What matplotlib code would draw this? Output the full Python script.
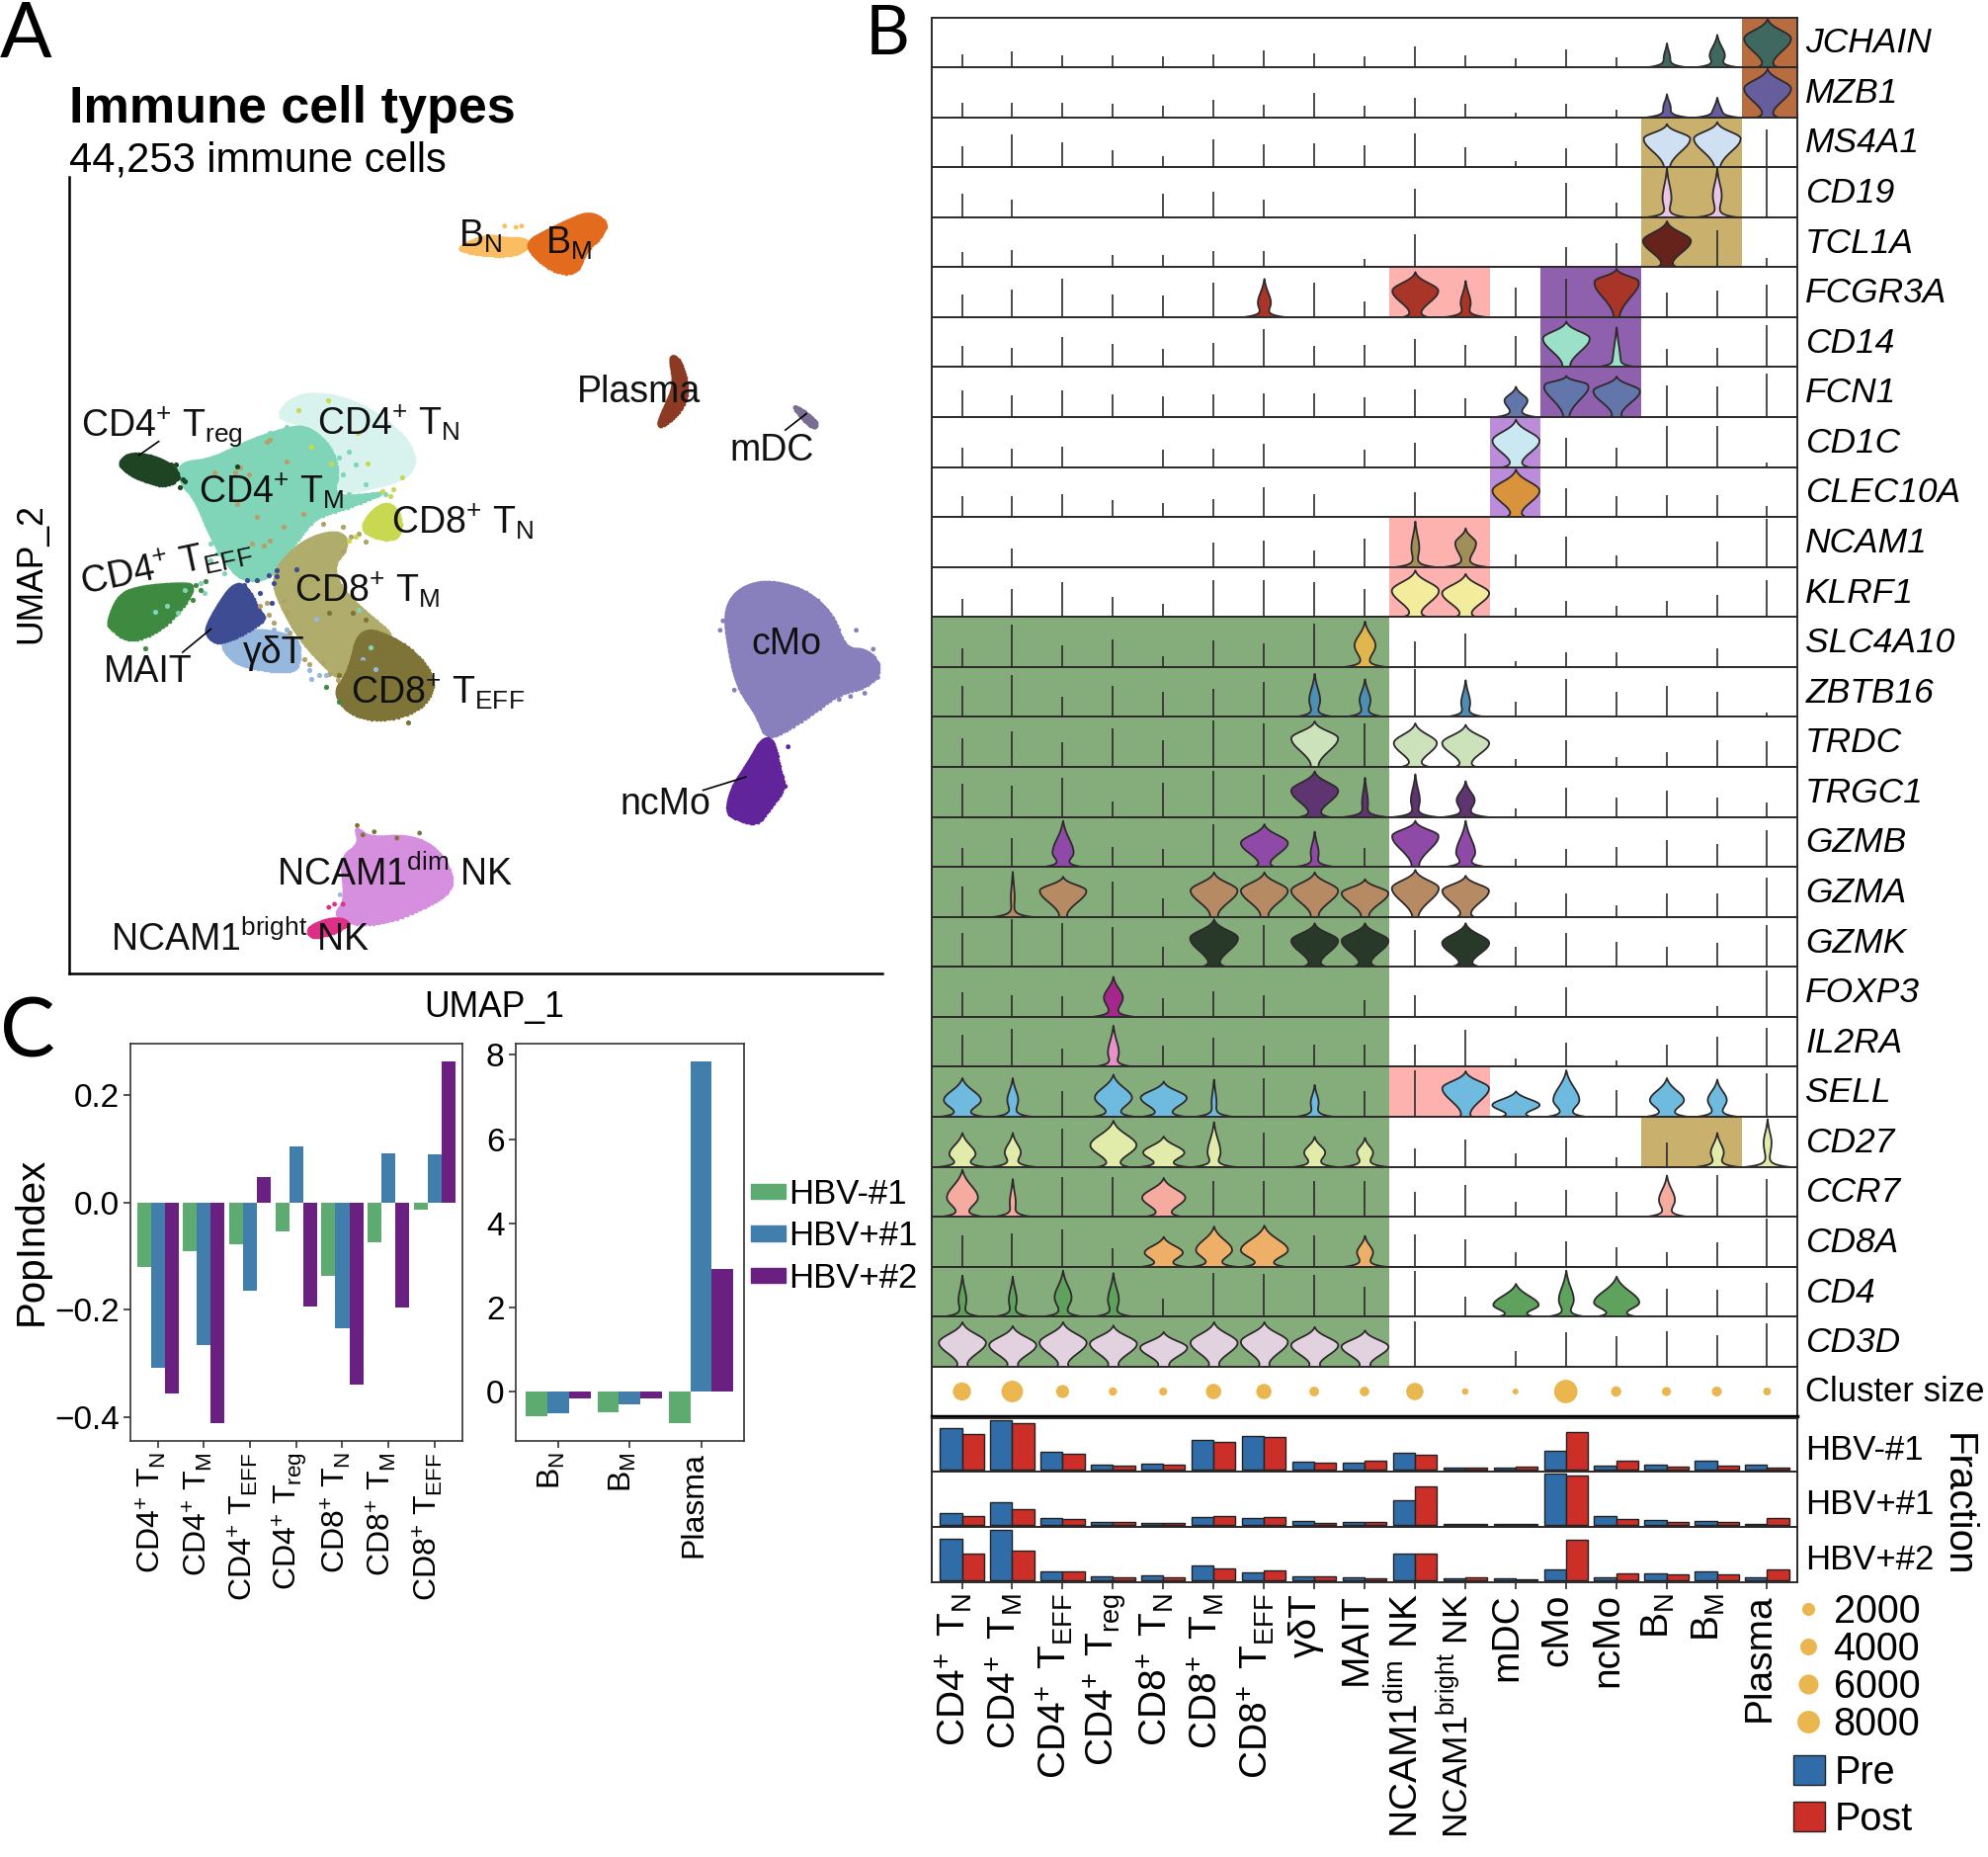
import numpy as np
import matplotlib
matplotlib.use("Agg")
from matplotlib import pyplot as plt
from matplotlib.lines import Line2D
from matplotlib.patches import Patch
from matplotlib.transforms import ScaledTranslation

plt.rcParams['font.family'] = ['Liberation Sans', 'DejaVu Sans']
plt.rcParams['mathtext.fontset'] = 'custom'
plt.rcParams['mathtext.rm'] = 'Liberation Sans'
plt.rcParams['mathtext.it'] = 'Liberation Sans:italic'
plt.rcParams['mathtext.bf'] = 'Liberation Sans:bold'
plt.rcParams['mathtext.default'] = 'rm'

W, H = 2012, 1879

# ---- cell type names
CD4N = r'CD4$^{+}$ T$_{N}$'
CD4M = r'CD4$^{+}$ T$_{M}$'
CD4E = r'CD4$^{+}$ T$_{EFF}$'
CD4R = r'CD4$^{+}$ T$_{reg}$'
CD8N = r'CD8$^{+}$ T$_{N}$'
CD8M = r'CD8$^{+}$ T$_{M}$'
CD8E = r'CD8$^{+}$ T$_{EFF}$'
BN = r'B$_{N}$'
BM = r'B$_{M}$'
NKD = r'NCAM1$^{dim}$ NK'
NKB = r'NCAM1$^{bright}$ NK'

clusters = [CD4N, CD4M, CD4E, CD4R, CD8N, CD8M, CD8E, 'γδT', 'MAIT', NKD, NKB,
            'mDC', 'cMo', 'ncMo', BN, BM, 'Plasma']

# ---- panel B, violin heights per gene (row = 1), one per cluster, 0 = nothing
genes = ['JCHAIN', 'MZB1', 'MS4A1', 'CD19', 'TCL1A', 'FCGR3A', 'CD14', 'FCN1', 'CD1C',
         'CLEC10A', 'NCAM1', 'KLRF1', 'SLC4A10', 'ZBTB16', 'TRDC', 'TRGC1', 'GZMB',
         'GZMA', 'GZMK', 'FOXP3', 'IL2RA', 'SELL', 'CD27', 'CCR7', 'CD8A', 'CD4', 'CD3D']

tops_jchain = [.26, .33, .24, .24, .23, .26, .34, .29, .23, .42, .24, .18, .37, .20, .50, .67, 1.0]
tops_mzb1 = [.30, .30, .30, .27, .24, .36, .25, .49, .24, .39, .27, .09, .27, .15, .48, .41, 1.0]
tops_ms4a1 = [.43, .67, .51, .35, .22, .56, .46, .49, .45, .69, .41, .12, .38, .48, .89, .93, .77]
tops_cd19 = [.48, .35, 0, 0, .48, .51, .36, 0, 0, .58, 0, 0, .71, .29, 1.0, 1.0, 1.0]
tops_tcl1a = [.30, .34, 0, .24, .24, .33, .33, 0, .16, .67, 0, 0, .41, .49, .95, .76, .19]
tops_fcgr3a = [.46, .56, .79, .46, .44, .71, .79, .71, .32, .93, .75, .60, .79, 1.0, .50, .54, .67]
tops_cd14 = [.44, .40, .62, .48, .37, .50, .77, .43, .45, .58, .45, .64, .94, .82, .37, .40, .86]
tops_fcn1 = [.54, .45, .54, .46, .43, .46, .49, .49, .41, .57, .39, .63, .85, .84, .65, .63, .88]
tops_cd1c = [.40, .38, .42, 0, .35, .38, .48, 0, .35, .50, 0, .98, .60, .40, .83, .83, .09]
tops_clec10a = [.43, .43, .46, .35, .28, .37, .61, .46, 0, .50, 0, .98, .59, .43, .45, .45, .23]
tops_ncam1 = [0, .37, 0, 0, 0, .50, .55, .33, .59, .94, .80, .25, .62, .23, 0, .51, .98]
tops_klrf1 = [.37, .57, .72, .41, .27, .76, .76, .72, .57, .96, .89, .18, .33, .22, .33, .45, .75]
tops_slc4a10 = [.39, .87, .44, .57, .23, .54, .49, .89, .94, .52, .69, .12, .31, .30, 0, .39, 0]
tops_zbtb16 = [.63, .86, .41, .63, .51, .58, .71, .89, .78, .98, .76, .31, .78, .51, .64, .51, .10]
tops_trdc = [.58, .73, .51, .78, .55, .94, .88, .94, .88, .90, .87, .17, .55, .21, .31, .55, .53]
tops_trgc1 = [.67, .64, .79, .31, .69, .95, .86, .94, .81, .88, .74, .18, .59, .39, .54, .39, .30]
tops_gzmb = [.38, .58, .95, .41, .36, .88, .88, .73, .38, .95, .95, .17, .36, .41, .54, .46, .76]
tops_gzma = [.63, .93, .83, .73, .38, .92, .92, .92, .78, .97, .85, .29, .48, .24, .48, .48, .80]
tops_gzmk = [.70, .97, .90, .82, .40, .98, .85, .90, .90, .75, .90, .40, .70, .52, .40, .50, .85]
tops_foxp3 = [.51, .44, .43, .83, .39, .53, .44, 0, .34, .44, 0, .22, .60, 0, 0, .22, .95]
tops_il2ra = [.65, .78, .38, .85, .43, .60, .43, .45, .45, .46, .76, .18, .50, .13, .46, .62, .80]
tops_sell = [.80, .80, .52, .87, .73, .77, .78, .66, .52, .95, .94, .53, .96, .55, .80, .77, .88]
tops_cd27 = [.70, .70, .78, .95, .63, .92, .70, .62, .60, .38, .55, .28, .60, .20, .50, .70, .98]
tops_ccr7 = [.97, .78, .82, .82, .80, .72, .72, .72, .72, .50, .65, .30, .55, .50, .85, .85, .77]
tops_cd8a = [.65, .68, .76, .37, .62, .83, .85, .65, .64, .67, .55, .30, .52, .40, .30, .50, .98]
tops_cd4 = [.85, .83, .95, .90, .37, .90, .88, .85, .62, .93, .40, .68, .95, .83, .57, .55, .70]
tops_cd3d = [.92, .84, .92, .85, .72, .92, .92, .82, .75, .92, 0, .33, .70, .62, .72, .65, .88]

gene_tops = [tops_jchain, tops_mzb1, tops_ms4a1, tops_cd19, tops_tcl1a, tops_fcgr3a, tops_cd14,
             tops_fcn1, tops_cd1c, tops_clec10a, tops_ncam1, tops_klrf1, tops_slc4a10, tops_zbtb16,
             tops_trdc, tops_trgc1, tops_gzmb, tops_gzma, tops_gzmk, tops_foxp3, tops_il2ra,
             tops_sell, tops_cd27, tops_ccr7, tops_cd8a, tops_cd4, tops_cd3d]

# cluster number -> (where the belly sits, belly half width, half width at the foot)
bellies = {
    'JCHAIN': {15: (.22, .05, .45), 16: (.25, .14, .48), 17: (.60, .46, .20)},
    'MZB1': {15: (.22, .06, .45), 16: (.15, .06, .45), 17: (.60, .46, .20)},
    'MS4A1': {15: (.60, .46, .02), 16: (.60, .46, .02)},
    'CD19': {15: (.40, .08, .45), 16: (.45, .08, .45)},
    'TCL1A': {15: (.55, .47, .20)},
    'FCGR3A': {7: (.30, .12, .48), 10: (.55, .45, .25), 11: (.30, .09, .48), 14: (.75, .45, .02)},
    'CD14': {13: (.60, .46, .05), 14: (.20, .06, .48)},
    'FCN1': {12: (.35, .22, .48), 13: (.68, .46, .02), 14: (.55, .46, .10)},
    'CD1C': {12: (.55, .46, .25)},
    'CLEC10A': {12: (.55, .46, .20)},
    'NCAM1': {10: (.40, .07, .45), 11: (.50, .20, .48)},
    'KLRF1': {10: (.55, .46, .25), 11: (.50, .46, .20)},
    'SLC4A10': {9: (.45, .20, .48)},
    'ZBTB16': {8: (.35, .10, .48), 9: (.35, .10, .48), 11: (.30, .08, .48)},
    'TRDC': {8: (.60, .46, .05), 10: (.50, .42, .30), 11: (.50, .46, .20)},
    'TRGC1': {8: (.55, .46, .30), 9: (.30, .05, .48), 10: (.35, .08, .48), 11: (.35, .17, .48)},
    'GZMB': {3: (.30, .20, .45), 7: (.50, .46, .20), 8: (.30, .07, .48), 10: (.65, .46, .05),
             11: (.30, .18, .48)},
    'GZMA': {2: (.40, .03, .45), 3: (.55, .46, .05), 6: (.55, .46, .05), 7: (.55, .46, .05),
             8: (.55, .46, .05), 9: (.50, .46, .05), 10: (.60, .46, .02), 11: (.55, .46, .15)},
    'GZMK': {6: (.60, .47, .25), 8: (.55, .46, .25), 9: (.55, .46, .25), 11: (.50, .46, .30)},
    'FOXP3': {4: (.40, .18, .48)},
    'IL2RA': {4: (.30, .10, .48)},
    'SELL': {1: (.35, .36, .50), 2: (.35, .10, .45), 4: (.40, .36, .48), 5: (.40, .45, .48),
             6: (.30, .04, .45), 8: (.30, .07, .45), 11: (.60, .46, .10), 12: (.25, .46, .30),
             13: (.35, .25, .45), 15: (.35, .33, .48), 16: (.35, .18, .48)},
    'CD27': {1: (.27, .25, .50), 2: (.30, .15, .48), 4: (.45, .45, .30), 5: (.30, .40, .48),
             6: (.30, .12, .45), 8: (.30, .20, .45), 9: (.30, .15, .48), 16: (.30, .12, .45),
             17: (.50, .07, .48)},
    'CCR7': {1: (.40, .30, .48), 2: (.30, .05, .45), 5: (.40, .42, .40), 15: (.35, .15, .48)},
    'CD8A': {5: (.30, .37, .48), 6: (.35, .35, .48), 7: (.35, .46, .45), 9: (.30, .15, .48)},
    'CD4': {1: (.35, .07, .45), 2: (.35, .07, .45), 3: (.40, .16, .48), 4: (.35, .10, .48),
            12: (.25, .44, .40), 13: (.35, .14, .45), 14: (.30, .44, .45)},
    'CD3D': {1: (.50, .46, .10), 2: (.45, .46, .10), 3: (.50, .46, .10), 4: (.48, .46, .10),
             5: (.40, .46, .10), 6: (.50, .46, .10), 7: (.52, .46, .10), 8: (.45, .46, .10),
             9: (.42, .46, .10)},
}

gene_colors = ['#3e6860', '#665d9d', '#cfe0f2', '#e9c6e6', '#66231c', '#a83527', '#9be0c9',
               '#6276ab', '#c9e8f2', '#d9933d', '#a08f58', '#f4ec9d', '#e0b64e', '#4d8eb3',
               '#cbe2bb', '#5e3570', '#8e4aa6', '#b68b64', '#28392a', '#a6278c', '#e891c8',
               '#6fbbe0', '#e2ecaa', '#f6aba0', '#eeb068', '#5ea25e', '#e2d2e0']

# coloured blocks behind the violins: colour, genes, first and last cluster
blocks = [
    ('#85ad7c', genes[12:], 1, 9),
    ('#fdb2b0', ['FCGR3A', 'NCAM1', 'KLRF1', 'SELL'], 10, 11),
    ('#c9b06c', ['MS4A1', 'CD19', 'TCL1A', 'CD27'], 15, 16),
    ('#b76d3f', ['JCHAIN', 'MZB1'], 17, 17),
    ('#8e60ad', ['FCGR3A', 'CD14', 'FCN1'], 13, 14),
    ('#bb8cd9', ['CD1C', 'CLEC10A'], 12, 12),
]

# ---- cluster size and pre / post fractions (in 0.1 %)
cluster_size = [4700, 6800, 2200, 600, 550, 3200, 3200, 1000, 950, 4200, 200, 80, 8100, 1200, 800, 1100, 500]
legend_sizes = [2000, 4000, 6000, 8000]

pre_hbvneg1 = [127, 153, 55, 15, 19, 93, 103, 25, 22, 52, 6, 6, 60, 14, 17, 27, 16]
post_hbvneg1 = [110, 142, 50, 13, 15, 86, 100, 23, 27, 47, 8, 10, 116, 29, 9, 14, 6]
pre_hbvpos1 = [37, 69, 22, 9, 6, 25, 21, 14, 9, 76, 4, 5, 154, 26, 15, 12, 4]
post_hbvpos1 = [26, 49, 19, 9, 6, 28, 24, 8, 9, 116, 5, 4, 147, 19, 9, 9, 22]
pre_hbvpos2 = [124, 152, 27, 14, 16, 45, 24, 13, 10, 80, 7, 6, 34, 11, 22, 26, 10]
post_hbvpos2 = [80, 90, 28, 11, 10, 36, 30, 14, 7, 80, 9, 4, 122, 21, 18, 20, 34]

# ---- panel C
donors = ['HBV-#1', 'HBV+#1', 'HBV+#2']
donor_colors = ['#5dab70', '#427eab', '#692080']
tcell_names = [CD4N, CD4M, CD4E, CD4R, CD8N, CD8M, CD8E]
popindex_t_hbvneg1 = [-.120, -.0915, -.0773, -.0548, -.137, -.075, -.0143]
popindex_t_hbvpos1 = [-.3076, -.266, -.164, .105, -.234, .091, .089]
popindex_t_hbvpos2 = [-.355, -.411, .047, -.194, -.34, -.196, .2626]
bcell_names = [BN, BM, 'Plasma']
popindex_b_hbvneg1 = [-.594, -.49, -.757]
popindex_b_hbvpos1 = [-.517, -.30, 7.84]
popindex_b_hbvpos2 = [-.172, -.16, 2.90]

# ---- panel A, cluster outlines
out_cd4n = [(488, 664), (505, 637), (546, 622), (616, 632), (679, 664), (726, 705), (732, 742), (703, 763),
            (645, 776), (598, 784), (581, 726), (540, 674)]
out_cd4m = [(314, 734), (372, 729), (436, 700), (494, 682), (540, 674), (581, 705), (598, 747), (586, 789),
            (656, 784), (679, 781), (616, 805), (557, 820), (528, 852), (494, 894), (470, 920), (424, 920),
            (395, 888), (372, 852), (343, 789), (319, 768)]
out_treg = [(209, 734), (229, 718), (273, 724), (302, 737), (319, 758), (290, 773), (244, 760), (221, 747)]
out_cd8n = [(639, 831), (662, 805), (688, 797), (708, 820), (705, 852), (679, 857), (645, 847)]
out_cd8m = [(488, 899), (528, 862), (575, 844), (610, 847), (610, 873), (587, 896), (598, 930), (645, 972),
            (703, 1014), (645, 1045), (604, 1077), (581, 1066), (528, 1014), (499, 967), (482, 930)]
out_cd8e = [(633, 993), (703, 1014), (755, 1056), (767, 1093), (738, 1129), (674, 1145), (616, 1134),
            (587, 1098), (616, 1066)]
out_cd4e = [(189, 988), (209, 943), (250, 930), (325, 925), (343, 930), (325, 962), (279, 1004), (226, 1019),
            (197, 998)]
out_mait = [(363, 996), (383, 962), (412, 925), (436, 930), (456, 967), (470, 983), (424, 1009), (383, 1022),
            (366, 1009)]
out_gdt = [(389, 1019), (447, 998), (494, 1004), (528, 1014), (528, 1056), (511, 1066), (470, 1064),
           (424, 1056), (401, 1040)]
out_bn = [(810, 390), (860, 372), (890, 378), (930, 378), (930, 395), (900, 405), (860, 405), (815, 398)]
out_bm = [(925, 385), (965, 365), (1000, 350), (1040, 335), (1072, 352), (1060, 375), (1030, 400), (1020, 430),
          (990, 435), (950, 415)]
out_plasma = [(1180, 565), (1195, 565), (1212, 600), (1210, 640), (1180, 670), (1158, 678), (1170, 650), (1190, 610)]
out_mdc = [(1397, 642), (1415, 650), (1442, 670), (1436, 680), (1415, 665)]
out_cmo = [(1277, 970), (1300, 935), (1350, 920), (1420, 935), (1470, 975), (1490, 1030), (1530, 1030),
           (1556, 1060), (1530, 1090), (1480, 1100), (1430, 1135), (1375, 1165), (1350, 1170), (1335, 1135),
           (1300, 1090), (1285, 1030)]
out_ncmo = [(1345, 1170), (1365, 1175), (1375, 1220), (1385, 1250), (1360, 1280), (1335, 1310), (1300, 1300),
            (1280, 1290), (1290, 1250), (1320, 1210)]
out_nkd = [(625, 1310), (650, 1330), (720, 1325), (770, 1345), (800, 1390), (790, 1420), (740, 1445), (670, 1468),
           (610, 1465), (590, 1450), (610, 1430), (600, 1360), (635, 1340)]
out_nkb = [(540, 1472), (590, 1455), (620, 1465), (590, 1480), (550, 1490)]

umap_outlines = [out_cd4n, out_cd4m, out_treg, out_cd8n, out_cd8m, out_cd8e, out_cd4e, out_gdt, out_mait,
                 out_bn, out_bm, out_plasma, out_mdc, out_cmo, out_ncmo, out_nkd, out_nkb]
umap_colors = ['#d8f3ee', '#80d5b8', '#1f4424', '#c9d851', '#b0ad6c', '#7f7438', '#3f8a41', '#96b8de', '#3e4c94',
               '#fbbd62', '#e36b1e', '#8d3a24', '#7a6c92', '#8880bd', '#62249b', '#d68fdf', '#de2f86']

# loose cells around the T cell clusters, read in a crop of that area
tm_x = [540, 575, 610, 660, 820, 850, 870, 830, 900, 870, 960, 480, 430, 450, 430, 470, 400, 410, 350, 330, 850, 900, 920]
tm_y = [215, 190, 175, 155, 250, 230, 270, 300, 375, 385, 360, 230, 510, 540, 560, 600, 630, 660, 650, 720, 360, 330, 360]
tan_x = [440, 520, 505, 545, 570, 650, 610, 555, 590, 710, 510, 600, 610, 660, 770, 830, 900, 855, 880, 830, 600, 580,
         650, 660, 605, 620, 670, 715, 770, 790, 815, 730]
tan_y = [295, 280, 295, 300, 430, 460, 500, 510, 515, 420, 390, 200, 195, 260, 450, 460, 505, 490, 480, 535, 690, 700,
         685, 720, 725, 750, 780, 860, 870, 905, 925, 875]
yellow_x = [695, 785, 735, 795, 905, 875, 950, 975, 1010, 985, 870, 850]
yellow_y = [105, 75, 215, 268, 268, 175, 350, 365, 310, 345, 490, 500]
mait_x = [690, 630, 620, 570, 540, 580, 615, 530, 605, 630]
mait_y = [588, 610, 630, 620, 620, 660, 690, 635, 605, 590]
gdt_x = [620, 660, 730, 760, 780, 735, 890, 930, 750]
gdt_y = [770, 770, 895, 910, 910, 920, 860, 890, 737]
eff_x = [385, 415, 400, 375, 360, 350, 780, 820, 232]
eff_y = [635, 625, 650, 680, 640, 680, 945, 990, 827]
treg_x = [325, 320, 345, 330, 350, 310, 335, 510]
treg_y = [270, 285, 315, 310, 320, 270, 340, 275]
olive_x = [860, 900, 920, 790, 890, 920, 820, 1030]
olive_y = [720, 740, 790, 720, 870, 870, 910, 1053]
teal_x = [260, 298, 915, 880]
teal_y = [718, 700, 825, 710]

t_stray = [(tm_x, tm_y, '#80d5b8'), (tan_x, tan_y, '#b5a06a'), (yellow_x, yellow_y, '#c9d851'),
           (mait_x, mait_y, '#3e4c94'), (gdt_x, gdt_y, '#96b8de'), (eff_x, eff_y, '#3f8a41'),
           (treg_x, treg_y, '#1f4424'), (olive_x, olive_y, '#7f7438'), (teal_x, teal_y, '#80d5b8')]

# loose cells elsewhere
stray_x = [1385, 1510, 1540, 1270, 660, 700, 740, 630, 600, 605, 640, 580, 590, 1275, 1480, 1500, 1525, 1548, 1390,
           1295, 890, 910, 920]
stray_y = [1248, 1000, 1030, 1000, 1320, 1330, 1322, 1310, 1420, 1435, 1325, 1440, 1435, 985, 1110, 1105, 1100, 1075,
           1185, 1095, 358, 360, 358]
stray_c = ['#62249b', '#8880bd', '#8880bd', '#8880bd', '#7f7438', '#7f7438', '#7f7438', '#7f7438', '#96b8de',
           '#de2f86', '#7f7438', '#de2f86', '#de2f86', '#8880bd', '#8880bd', '#8880bd', '#8880bd', '#8880bd',
           '#62249b', '#8880bd', '#fbbd62', '#fbbd62', '#fbbd62']

leader_x = [(245, 280), (322, 372), (1240, 1315), (1385, 1422)]
leader_y = [(722, 700), (1035, 998), (1254, 1233), (682, 656)]

# label, x, y, rotation
umap_labels = [
    (CD4R, 143, 676, 0), (CD4N, 560, 670, 0), (CD4M, 350, 778, 0), (CD8N, 690, 828, 0),
    (CD4E, 143, 925, 12), (CD8M, 520, 935, 0), ('MAIT', 182, 1066, 0), ('γδT', 428, 1036, 0),
    (CD8E, 618, 1097, 0), (BN, 808, 375, 0), (BM, 962, 385, 0), ('Plasma', 1017, 622, 0),
    ('mDC', 1286, 714, 0), ('cMo', 1325, 1022, 0), ('ncMo', 1094, 1276, 0), (NKD, 488, 1388, 0),
    (NKB, 195, 1492, 0),
]


def rect(left, top, right, bottom):
    return [left / W, 1 - bottom / H, (right - left) / W, (bottom - top) / H]


def chaikin(points, rounds=3):
    # round off the corners of a read outline
    p = np.array(points, dtype=float)
    for _ in range(rounds):
        q = np.roll(p, -1, axis=0)
        p = np.column_stack([0.75 * p + 0.25 * q, 0.25 * p + 0.75 * q]).reshape(-1, 2)
    return p


def violin_outline(top, belly_y, belly_w, foot_w):
    y = np.linspace(0, top, 200)
    s = np.where(y > belly_y, (top - belly_y) * 0.58, belly_y * 0.62)
    w = belly_w * np.exp(-np.abs((y - belly_y) / s) ** 2)
    w = w + foot_w * np.exp(-y / 0.05) + 0.008
    return y, w * (1 - (y / top) ** 10)


def shift_labels(ax, fig, px):
    offset = ScaledTranslation(px / 100, 0, fig.dpi_scale_trans)
    for label in ax.get_xticklabels():
        label.set_transform(label.get_transform() + offset)


fig = plt.figure(figsize=(W / 100, H / 100), dpi=100)

# ---------------- panel A
ax = fig.add_axes(rect(70, 179, 893, 985))
for outline, col in zip(umap_outlines, umap_colors):
    p = chaikin(outline)
    ax.fill(p[:, 0], p[:, 1], color=col, lw=2)
    ax.scatter(p[:, 0], p[:, 1], s=7, color=col, lw=0)
for sx, sy, col in t_stray:
    # crop position to axis units
    ax.scatter(122 + 0.5807 * np.array(sx), 595.5 + 0.5232 * np.array(sy), s=14, color=col, lw=0)
ax.scatter(stray_x, stray_y, s=12, c=stray_c, lw=0)
for lx, ly in zip(leader_x, leader_y):
    ax.plot(lx, ly, color='black', lw=1.2)
for text, x, y, rot in umap_labels:
    ax.text(x, y, text, fontsize=27, ha='left', va='center', rotation=rot, rotation_mode='anchor', color='#111111')
ax.set_xlim(122, 1556)
ax.set_ylim(1545, 280)
ax.set_xticks([])
ax.set_yticks([])
ax.spines['top'].set_visible(False)
ax.spines['right'].set_visible(False)
ax.spines['left'].set_linewidth(1.8)
ax.spines['bottom'].set_linewidth(1.8)

fig.text(70 / W, 1 - 124 / H, 'Immune cell types', fontsize=37.5, fontweight='bold', va='baseline')
fig.text(70 / W, 1 - 173.5 / H, '44,253 immune cells', fontsize=30, va='baseline')
fig.text(32 / W, 1 - 580 / H, 'UMAP_2', fontsize=25.6, rotation=90, ha='center', va='center')
fig.text(500 / W, 1 - 1020 / H, 'UMAP_1', fontsize=25.6, ha='center', va='center')

for letter, x, y, size in [('A', 0, 58, 56), ('B', 876, 55, 50), ('C', 0, 1069, 60)]:
    fig.text(x / W, 1 - y / H, letter, fontsize=size, family='Lato', va='baseline')

# ---------------- panel B, violins
col_x = np.arange(1, 18)
xlim_b = (0.4, 17.6)
row_top = 17.5
row_h = 50.57
for i, gene in enumerate(genes):
    ax = fig.add_axes(rect(943, row_top + i * row_h, 1819, row_top + (i + 1) * row_h))
    for col, block_genes, first, last in blocks:
        if gene in block_genes:
            ax.axvspan(first - 0.5 if first > 1 else xlim_b[0], last + 0.5 if last < 17 else xlim_b[1],
                       color=col, lw=0, zorder=0)
    tops = gene_tops[i]
    belly = bellies.get(gene, {})
    for x, top in zip(col_x, tops):
        if top == 0:
            continue
        if x in belly:
            y, w = violin_outline(top, *belly[x])
            ax.fill_betweenx(y, x - w, x + w, facecolor=gene_colors[i], edgecolor='#2e2a2b', lw=1.3, zorder=3)
        else:
            ax.vlines(x, 0, top, color='#2e2a2b', lw=1.2, zorder=3)
    ax.set_xlim(*xlim_b)
    ax.set_ylim(0, 1.02)
    ax.set_xticks([])
    ax.set_yticks([])
    for s in ax.spines.values():
        s.set_linewidth(1.4)
        s.set_color('#2e2a2b')
    ax.text(1.0095, 0.48, gene, transform=ax.transAxes, fontsize=25.5, style='italic', va='center', ha='left')

# ---------------- panel B, cluster size
ax = fig.add_axes(rect(943, 1383, 1819, 1433))
ax.scatter(col_x, np.ones(17), s=16 + 0.034 * np.array(cluster_size), color='#e9b64f', lw=0)
ax.set_xlim(*xlim_b)
ax.set_xticks([])
ax.set_yticks([])
for s in ax.spines.values():
    s.set_linewidth(1.4)
    s.set_color('#2e2a2b')
ax.spines['bottom'].set_linewidth(2.5)
ax.spines['bottom'].set_color('black')
ax.text(1.0095, 0.5, 'Cluster size', transform=ax.transAxes, fontsize=25, va='center', ha='left')

# ---------------- panel B, fractions
frac_rows = [(pre_hbvneg1, post_hbvneg1), (pre_hbvpos1, post_hbvpos1), (pre_hbvpos2, post_hbvpos2)]
frac_edges = [1434.5, 1489, 1545, 1601]
bar_w = 0.435
for i, (pre, post) in enumerate(frac_rows):
    ax = fig.add_axes(rect(943, frac_edges[i], 1819, frac_edges[i + 1]))
    ax.bar(col_x - bar_w / 2, pre, bar_w, color='#2f6ca8', edgecolor='#222222', lw=1.0)
    ax.bar(col_x + bar_w / 2, post, bar_w, color='#cc2f27', edgecolor='#222222', lw=1.0)
    ax.set_xlim(*xlim_b)
    ax.set_ylim(-5, 160)
    ax.set_yticks([])
    for s in ax.spines.values():
        s.set_linewidth(1.4)
        s.set_color('#2e2a2b')
    ax.text(1.0095, 0.40, donors[i], transform=ax.transAxes, fontsize=25, va='center', ha='left')
    if i == 2:
        ax.set_xticks(col_x)
        # the panel B labels keep a little more room before the T
        ax.set_xticklabels([c.replace('$ T', r'\,$ T') for c in clusters], rotation=90, fontsize=28,
                           ha='center', va='top')
        ax.tick_params(axis='x', length=5, width=1.2, pad=3, color='#2e2a2b')
        shift_labels(ax, fig, -8)
        # longest label has to stay inside the figure
        ax.get_xticklabels()[10].set_fontsize(25.5)
    else:
        ax.set_xticks([])

fig.text(1981 / W, 1 - 1523 / H, 'Fraction', fontsize=29, rotation=-90, ha='center', va='center')

size_handles = [Line2D([], [], ls='', marker='o', color='#e9b64f', markeredgewidth=0,
                       markersize=np.sqrt(30 + 0.03 * n)) for n in legend_sizes]
fig.legend(size_handles, [str(n) for n in legend_sizes], loc='upper left', bbox_to_anchor=(1808 / W, 1 - 1612 / H),
           frameon=False, fontsize=28.5, labelspacing=0.0, handletextpad=0.1, borderpad=0, borderaxespad=0,
           handlelength=1.1)
fig.legend([Patch(facecolor='#2f6ca8', edgecolor='#222222'), Patch(facecolor='#cc2f27', edgecolor='#222222')],
           ['Pre', 'Post'], loc='upper left', bbox_to_anchor=(1815 / W, 1 - 1775 / H), frameon=False, fontsize=28.5,
           labelspacing=0.22, handletextpad=0.25, borderpad=0, borderaxespad=0, handlelength=0.8, handleheight=0.8)

# ---------------- panel C
groups = [
    (rect(132, 1056, 468, 1458), tcell_names, (popindex_t_hbvneg1, popindex_t_hbvpos1, popindex_t_hbvpos2),
     (-0.444, 0.2955), (0.41, 7.6), [-0.4, -0.2, 0.0, 0.2], ['\u22120.4', '\u22120.2', '0.0', '0.2']),
    (rect(521.6, 1056, 753, 1458), bcell_names, (popindex_b_hbvneg1, popindex_b_hbvpos1, popindex_b_hbvpos2),
     (-1.178, 8.27), (0.4, 3.6), [0, 2, 4, 6, 8], ['0', '2', '4', '6', '8']),
]
for box, names, values, ylim, xlim, yticks, yticklabels in groups:
    ax = fig.add_axes(box)
    x = np.arange(1, len(names) + 1)
    for k in range(3):
        ax.bar(x + (k - 1) * 0.3, values[k], 0.3, color=donor_colors[k], lw=0)
    ax.set_xlim(*xlim)
    ax.set_ylim(*ylim)
    ax.set_yticks(yticks)
    ax.set_yticklabels(yticklabels, fontsize=24)
    ax.set_xticks(x)
    ax.set_xticklabels(names, rotation=90, fontsize=23, ha='center', va='top')
    ax.tick_params(length=5, width=1.2, pad=3, color='#333333')
    shift_labels(ax, fig, -7)
    for s in ax.spines.values():
        s.set_linewidth(1.2)
        s.set_color('#333333')

fig.text(32 / W, 1 - 1256 / H, 'PopIndex', fontsize=29, rotation=90, ha='center', va='center')
fig.legend([Patch(color=c) for c in donor_colors], donors, loc='center left', bbox_to_anchor=(760 / W, 1 - 1251 / H),
           frameon=False, fontsize=25, labelspacing=0.27, handletextpad=0.1, borderpad=0, borderaxespad=0,
           handlelength=1.0, handleheight=0.3)

fig.savefig('out.png', dpi=100)
